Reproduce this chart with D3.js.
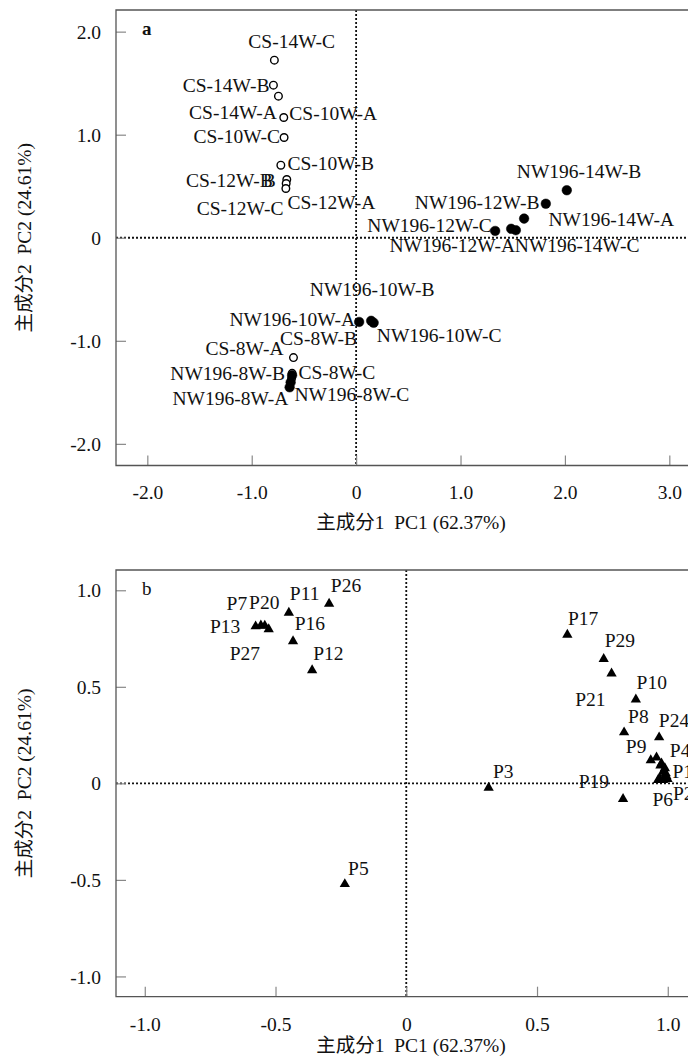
<!DOCTYPE html>
<html>
<head>
<meta charset="utf-8">
<script src="https://cdn.jsdelivr.net/npm/d3@7/dist/d3.min.js"></script>
<style>
  html, body { margin: 0; padding: 0; background: #fff; }
  text { font-family: "Liberation Serif", "Times New Roman", "Noto Sans CJK SC", serif; fill: #111; }
</style>
</head>
<body>
<svg id="chart" width="688" height="1057"></svg>
<script>
// ---------------- Panel a data (samples) ----------------
const sampleNames = [
  "CS-14W-C","CS-14W-B","CS-14W-A","CS-10W-A","CS-10W-C","CS-10W-B",
  "CS-12W-B","CS-12W-A","CS-12W-C",
  "NW196-14W-B","NW196-12W-B","NW196-14W-A","NW196-12W-C","NW196-12W-A","NW196-14W-C",
  "NW196-10W-A","NW196-10W-B","NW196-10W-C",
  "CS-8W-A","CS-8W-B","CS-8W-C","NW196-8W-B","NW196-8W-C","NW196-8W-A"
];
const samplePC1 = [
  -0.783,-0.792,-0.744,-0.693,-0.690,-0.721,
  -0.664,-0.670,-0.673,
  2.018,1.817,1.609,1.332,1.485,1.530,
  0.029,0.144,0.168,
  -0.600,-0.613,-0.618,-0.613,-0.627,-0.637
];
const samplePC2 = [
  1.723,1.481,1.374,1.167,0.973,0.704,
  0.565,0.526,0.478,
  0.461,0.330,0.186,0.066,0.087,0.073,
  -0.817,-0.806,-0.825,
  -1.163,-1.316,-1.364,-1.335,-1.403,-1.451
];
const sampleCultivar = sampleNames.map(n => n.startsWith("CS") ? "CS" : "NW196");

// label placement for panel a (anchor, dx, dy in px from the point)
const sampleLabelLayout = [
  ["start",-26,-12],["end",-4,7],["end",-1.6,23],["start",5.6,2.7],["end",-4,6],["start",6.6,5],
  ["end",-14,7.4],["start",1.3,25],["end",-2.4,26.7],
  ["start",-50,-12],["end",-6.4,5],["start",24.3,7.7],["end",-3.3,1],["end",4,23.2],["start",-1,21.7],
  ["end",-4,4.3],["middle",1,-24.5],["start",3.2,19.2],
  ["end",-10,-2.3],["start",-12,-28],["start",6.8,0.3],["end",-7,5],["start",3.8,18.7],["end",-1.2,18]
];

// ---------------- Panel b data (loadings) ----------------
const varNames = ["P1","P2","P3","P4","P5","P6","P7","P8","P9","P10",
  "P11","P12","P13","P14","P15","P16","P17","P18","P19","P20",
  "P21","P22","P23","P24","P25","P26","P27","P28","P29"];
const varPC1 = [0.982,0.969,0.315,0.957,-0.235,0.963,-0.556,0.833,0.935,0.878,
  -0.449,-0.360,-0.576,0.976,0.989,-0.433,0.616,0.992,0.829,-0.541,
  0.785,0.982,0.995,0.967,0.972,-0.295,-0.526,0.999,0.755];
const varPC2 = [0.060,0.026,-0.023,0.134,-0.522,0.017,0.818,0.264,0.120,0.434,
  0.884,0.586,0.813,0.103,0.078,0.736,0.770,0.052,-0.081,0.816,
  0.569,0.017,0.036,0.238,0.092,0.930,0.798,0.022,0.644];
// labels of P14, P15, P18, P22, P23, P25, P28 lie beyond the cropped right edge
const varLabelLayout = [
  ["start",9.4,6.6],["start",13.3,21.7],["start",4.3,-9.4],["start",13.3,0],["start",3.3,-9.3],
  ["start",-5.6,26],["end",-13.7,-15],["start",4,-9.6],["end",-4.3,-6.7],["start",0.7,-11],
  ["start",1,-12.3],["start",1,-10],["end",-15.3,6.7],["start",45,4],["start",45,0],
  ["start",1.7,-11],["start",0.6,-9.3],["start",45,8],["end",-14,-10.7],["start",-15.7,-17.2],
  ["end",-6,32.7],["start",45,12],["start",45,-4],["start",-0.3,-10.6],["start",45,6],
  ["start",1.7,-11.3],["start",-39,31],["start",45,16],["start",1,-12]
];

// ---------------- ticks and titles ----------------
const aXTicks = [-2, -1, 0, 1, 2, 3];
const aYTicks = [-2, -1, 0, 1, 2];
const bXTicks = [-1, -0.5, 0, 0.5, 1];
const bYTicks = [-1, -0.5, 0, 0.5, 1];
const xTitle = "主成分1\u00a0\u00a0PC1 (62.37%)";
const yTitle = "主成分2\u00a0\u00a0PC2 (24.61%)";
const panelLetters = ["a", "b"];

const fmt = d => d === 0 ? "0" : d.toFixed(1);
const svg = d3.select("#chart");
svg.append("rect").attr("width", 688).attr("height", 1057).attr("fill", "#fff");

function drawPanel(cfg) {
  const { x, y, xTicks, yTicks, letter, letterBold, titleY } = cfg;
  const g = svg.append("g");
  const [x0, x1] = x.range();
  const [y0, y1] = y.range(); // y0 bottom, y1 top

  // dotted zero lines
  g.append("line").attr("x1", x0).attr("x2", x1).attr("y1", y(0)).attr("y2", y(0))
    .attr("stroke", "#111").attr("stroke-width", 1.8).attr("stroke-dasharray", "2,2");
  g.append("line").attr("x1", x(0)).attr("x2", x(0)).attr("y1", y1).attr("y2", y0)
    .attr("stroke", "#111").attr("stroke-width", 1.8).attr("stroke-dasharray", "2,2");

  // axes (ticks inward)
  const xAxis = d3.axisBottom(x).tickValues(xTicks).tickFormat(fmt).tickSizeInner(-10).tickSizeOuter(0).tickPadding(20);
  const gx = g.append("g").attr("transform", `translate(0,${y0})`).call(xAxis);
  const yAxis = d3.axisLeft(y).tickValues(yTicks).tickFormat(fmt).tickSizeInner(-10).tickSizeOuter(0).tickPadding(15);
  const gy = g.append("g").attr("transform", `translate(${x0},0)`).call(yAxis);
  [gx, gy].forEach(a => {
    a.select(".domain").remove();
    a.selectAll(".tick line").attr("stroke", "#888").attr("stroke-width", 1.2);
    a.selectAll(".tick text").attr("font-family", "Liberation Serif").attr("font-size", 19.5).attr("fill", "#111");
  });
  gx.selectAll(".tick text").attr("dy", "0.71em");
  gy.selectAll(".tick text").attr("dy", "0.34em");

  // frame (right side lies beyond the canvas)
  g.append("path")
    .attr("d", `M${x1},${y1}H${x0}V${y0}H${x1}`)
    .attr("fill", "none").attr("stroke", "#555").attr("stroke-width", 1.3);

  // letter
  g.append("text").attr("x", x0 + 26).attr("y", y1 + 25)
    .attr("font-size", 19).attr("font-weight", letterBold ? "bold" : "normal").text(letter);

  // titles
  g.append("text").attr("x", 411).attr("y", titleY).attr("text-anchor", "middle")
    .attr("font-size", 19.5).text(xTitle);
  const cy = (y0 + y1) / 2;
  g.append("text").attr("transform", `translate(31,${cy}) rotate(-90)`).attr("text-anchor", "middle")
    .attr("font-size", 19.5).text(yTitle);
  return g;
}

// ----- Panel a -----
const xa = d3.scaleLinear().domain([-2.30, 3.5]).range([116, 116 + 5.8 * 104.4]);
const ya = d3.scaleLinear().domain([-2.21, 2.21]).range([465.5, 10]);
const ga = drawPanel({ x: xa, y: ya, xTicks: aXTicks, yTicks: aYTicks, letter: panelLetters[0], letterBold: true, titleY: 529 });

const samples = sampleNames.map((n, i) => ({ name: n, pc1: samplePC1[i], pc2: samplePC2[i], cv: sampleCultivar[i], lay: sampleLabelLayout[i] }));
// open circles first, filled on top
const order = samples.filter(d => d.cv === "CS").concat(samples.filter(d => d.cv !== "CS"));
ga.selectAll("circle.pt").data(order).join("circle")
  .attr("class", "pt")
  .attr("cx", d => xa(d.pc1)).attr("cy", d => ya(d.pc2))
  .attr("r", d => d.cv === "CS" ? 3.8 : 4.8)
  .attr("fill", d => d.cv === "CS" ? "#fff" : "#000")
  .attr("stroke", "#000").attr("stroke-width", d => d.cv === "CS" ? 1.4 : 0.5);
ga.selectAll("text.lab").data(samples).join("text")
  .attr("class", "lab")
  .attr("x", d => xa(d.pc1) + d.lay[1]).attr("y", d => ya(d.pc2) + d.lay[2])
  .attr("text-anchor", d => d.lay[0])
  .attr("font-size", 19.5).text(d => d.name);
// doubled "B" of the overlapping CS-12W-B label
const b12 = samples.find(d => d.name === "CS-12W-B");
ga.append("text").attr("x", xa(b12.pc1) + b12.lay[1] + 3).attr("y", ya(b12.pc2) + b12.lay[2])
  .attr("text-anchor", "end").attr("font-size", 19.5).text("B");

// ----- Panel b -----
const xb = d3.scaleLinear().domain([-1.11, 1.3]).range([116, 116 + 2.41 * 261.5]);
const yb = d3.scaleLinear().domain([-1.105, 1.105]).range([996.7, 570]);
const gb = drawPanel({ x: xb, y: yb, xTicks: bXTicks, yTicks: bYTicks, letter: panelLetters[1], letterBold: false, titleY: 1052 });

const vars = varNames.map((n, i) => ({ name: n, pc1: varPC1[i], pc2: varPC2[i], lay: varLabelLayout[i] }));
const tri = d3.symbol().type(d3.symbolTriangle).size(46);
gb.selectAll("path.pt").data(vars).join("path")
  .attr("class", "pt")
  .attr("transform", d => `translate(${xb(d.pc1)},${yb(d.pc2)})`)
  .attr("d", tri).attr("fill", "#000");
gb.selectAll("text.lab").data(vars).join("text")
  .attr("class", "lab")
  .attr("x", d => xb(d.pc1) + d.lay[1]).attr("y", d => yb(d.pc2) + d.lay[2])
  .attr("text-anchor", d => d.lay[0])
  .attr("font-size", 19.5).text(d => d.name);
</script>
</body>
</html>
